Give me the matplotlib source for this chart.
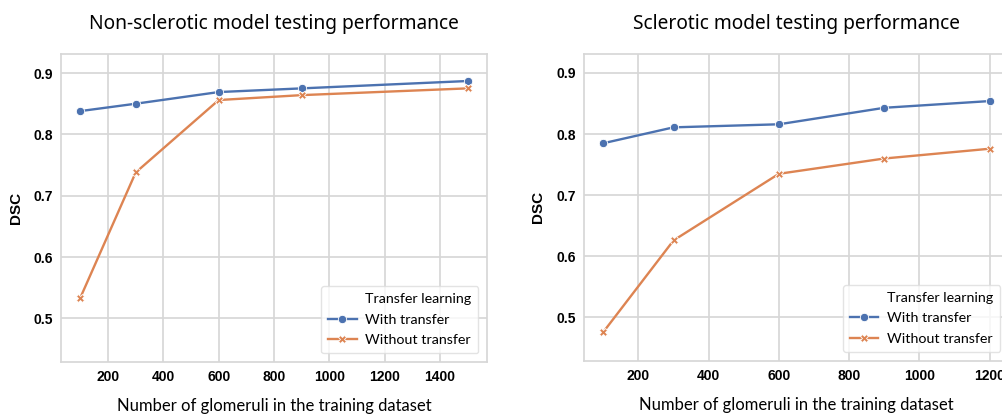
import matplotlib
matplotlib.use('Agg')
import matplotlib.pyplot as plt
from matplotlib.lines import Line2D

# number of glomeruli used for training
n_glom_nonscl = [100, 300, 600, 900, 1500]
n_glom_scl = [100, 300, 600, 900, 1200]

# DSC values
nonscl_with = [0.838, 0.850, 0.869, 0.875, 0.887]
nonscl_without = [0.534, 0.738, 0.856, 0.864, 0.875]
scl_with = [0.785, 0.811, 0.816, 0.843, 0.854]
scl_without = [0.476, 0.626, 0.735, 0.760, 0.776]

xticks_nonscl = [200, 400, 600, 800, 1000, 1200, 1400]
xticks_scl = [200, 400, 600, 800, 1000, 1200]
yticks = [0.5, 0.6, 0.7, 0.8, 0.9]

titles = ['Non-sclerotic model testing performance', 'Sclerotic model testing performance']
xlabel = 'Number of glomeruli in the training dataset'
ylabel = 'DSC'
legend_title = 'Transfer learning'
labels = ['With transfer', 'Without transfer']

blue = '#4c72b0'
orange = '#dd8452'
grid_col = '#d6d6d6'

fig = plt.figure(figsize=(10.02, 4.2), dpi=100)
ax1 = fig.add_axes([0.0609, 0.138, 0.4252, 0.7334])
ax2 = fig.add_axes([0.5828, 0.141, 0.4242, 0.7304])

def draw(ax, x, y_with, y_without, xticks, title, ylab_x):
    ax.plot(x, y_with, color=blue, lw=1.7, marker='o', ms=6,
            markeredgecolor='white', markeredgewidth=0.6, label=labels[0])
    ax.plot(x, y_without, color=orange, lw=1.7, marker='X', ms=6,
            markeredgecolor='white', markeredgewidth=0.6, label=labels[1])
    ax.set_ylim(0.429, 0.931)
    pad = (max(x) - min(x)) * 0.05
    ax.set_xlim(min(x) - pad, max(x) + pad)
    ax.set_xticks(xticks)
    ax.set_yticks(yticks)
    ax.grid(True, color=grid_col, lw=1.2)
    ax.set_axisbelow(True)
    for s in ax.spines.values():
        s.set_color(grid_col)
        s.set_linewidth(1.2)
    ax.tick_params(length=0, pad=6)
    for t in ax.get_xticklabels() + ax.get_yticklabels():
        t.set_fontfamily('Liberation Sans')
        t.set_fontweight('bold')
        t.set_fontsize(10)
    ax.set_title(title, fontfamily='Noto Sans', fontsize=13.8, pad=18)
    ax.set_xlabel(xlabel, fontfamily='Lato', fontsize=12, labelpad=10)
    ax.set_ylabel(ylabel, fontfamily='Liberation Sans', fontweight='bold', fontsize=11)
    ax.yaxis.set_label_coords(ylab_x, 0.5)
    # old-style seaborn legend: hue name as a blank-handle entry
    handles, labs = ax.get_legend_handles_labels()
    blank = Line2D([], [], linestyle='none', marker='none')
    leg = ax.legend([blank] + handles, [legend_title] + labs, loc='lower right',
                    prop={'family': 'Lato', 'size': 10.3}, frameon=True,
                    handlelength=2.0, handletextpad=0.6, borderaxespad=0.6,
                    labelspacing=0.6, borderpad=0.5)
    leg.get_frame().set_edgecolor('#dddddd')

draw(ax1, n_glom_nonscl, nonscl_with, nonscl_without, xticks_nonscl, titles[0], -0.09)
draw(ax2, n_glom_scl, scl_with, scl_without, xticks_scl, titles[1], -0.092)

fig.savefig('out.png', dpi=100)
